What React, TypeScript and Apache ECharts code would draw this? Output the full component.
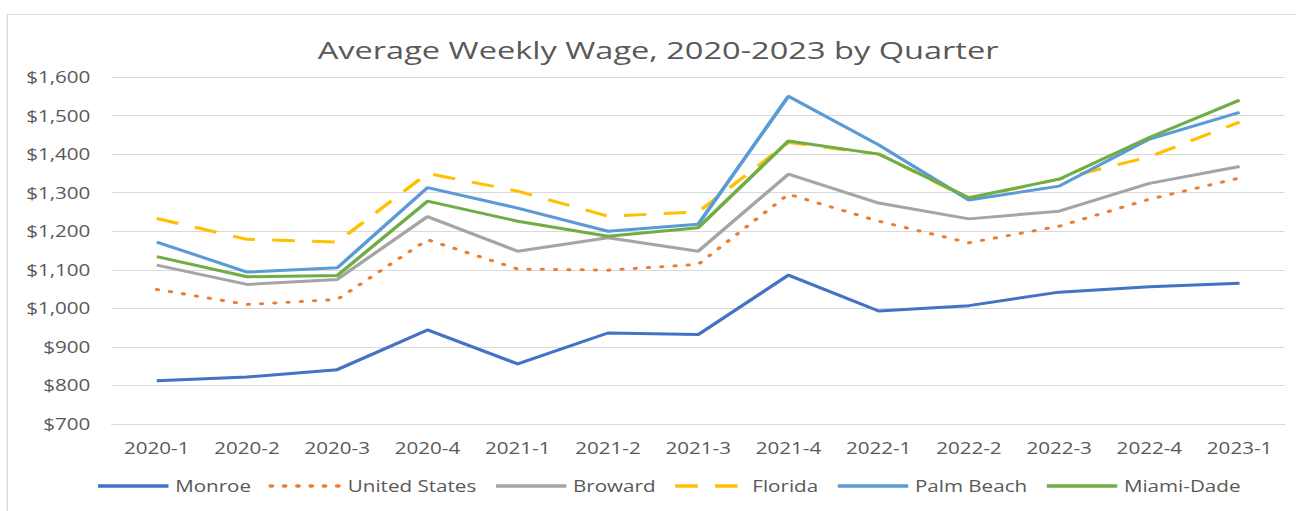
import React, { useEffect, useRef } from "react";
import * as echarts from "echarts";

const quarters = ["2020-1","2020-2","2020-3","2020-4","2021-1","2021-2","2021-3","2021-4","2022-1","2022-2","2022-3","2022-4","2023-1"];
const monroe = [812, 822, 841, 944, 856, 936, 932, 1086, 993, 1007, 1042, 1056, 1065];
const unitedStates = [1049, 1010, 1023, 1178, 1102, 1099, 1114, 1296, 1226, 1170, 1213, 1283, 1338];
const broward = [1112, 1062, 1075, 1238, 1148, 1183, 1148, 1348, 1273, 1232, 1252, 1324, 1368];
const florida = [1233, 1179, 1172, 1350, 1304, 1239, 1250, 1430, 1400, 1285, 1335, 1393, 1483];
const palmBeach = [1172, 1094, 1105, 1313, 1260, 1200, 1218, 1550, 1424, 1281, 1317, 1439, 1508];
const miamiDade = [1134, 1082, 1085, 1278, 1226, 1187, 1209, 1434, 1400, 1287, 1335, 1443, 1540];
const seriesNames = ["Monroe", "United States", "Broward", "Florida", "Palm Beach", "Miami-Dade"];

const FONT = "'Open Sans', sans-serif";
const TXT = "#595959";
// the reference picture is horizontally stretched; draw narrower and stretch the same way
const PAGE_W = 1296;
const CHART_W = 975;
const SX = PAGE_W / CHART_W;

export default function App() {
  const ref = useRef<HTMLDivElement>(null);
  useEffect(() => {
    document.body.style.margin = "0";
    const chart = echarts.init(ref.current!, null, { renderer: "svg" });
    const mk = (name: string, data: number[], color: string, type: any, cap = "butt") => ({
      name, type: "line", data, symbol: "none",
      lineStyle: { color, width: 3, type, cap },
      itemStyle: { color },
    });
    chart.setOption({
      animation: false,
      backgroundColor: "#fff",
      textStyle: { fontFamily: FONT },
      title: {
        text: "Average Weekly Wage, 2020-2023 by Quarter",
        left: 234, top: 32,
        textStyle: { fontFamily: FONT, fontSize: 24.5, fontWeight: "normal", color: TXT },
      },
      graphic: [{
        type: "rect", shape: { x: 5.5, y: 14.5, width: 1100, height: 520 },
        style: { fill: "none", stroke: "#d9d9d9", lineWidth: 1 }, silent: true,
      }],
      grid: { left: 84, right: 8.5, top: 77, bottom: 87, containLabel: false },
      legend: {
        bottom: 12, left: 67, itemWidth: 53, itemHeight: 10, itemGap: 13,
        itemStyle: { opacity: 0 },
        lineStyle: { width: 3.5 },
        textStyle: { fontFamily: FONT, fontSize: 15.5, color: TXT },
        data: seriesNames,
      },
      xAxis: {
        type: "category", data: quarters, boundaryGap: true,
        axisLine: { lineStyle: { color: "#d9d9d9" } }, axisTick: { show: false },
        axisLabel: { color: TXT, fontSize: 15.5, fontFamily: FONT, margin: 16 },
      },
      yAxis: {
        type: "value", min: 700, max: 1600, interval: 100,
        axisLine: { show: false }, axisTick: { show: false },
        splitLine: { lineStyle: { color: "#d9d9d9", width: 1 } },
        axisLabel: {
          color: TXT, fontSize: 15.5, fontFamily: FONT, margin: 16,
          formatter: (v: number) => "$" + v.toLocaleString("en-US"),
        },
      },
      series: [
        mk(seriesNames[0], monroe, "#4472C4", "solid"),
        mk(seriesNames[1], unitedStates, "#ED7D31", [1, 9], "round"),
        mk(seriesNames[2], broward, "#A5A5A5", "solid"),
        mk(seriesNames[3], florida, "#FFC000", [17, 13]),
        mk(seriesNames[4], palmBeach, "#5B9BD5", "solid"),
        mk(seriesNames[5], miamiDade, "#70AD47", "solid"),
      ],
    });
    return () => chart.dispose();
  }, []);
  return (
    <div style={{ width: PAGE_W, height: 511, overflow: "hidden" }}>
      <div
        ref={ref}
        style={{ width: CHART_W, height: 511, transform: `scaleX(${SX})`, transformOrigin: "0 0" }}
      />
    </div>
  );
}
